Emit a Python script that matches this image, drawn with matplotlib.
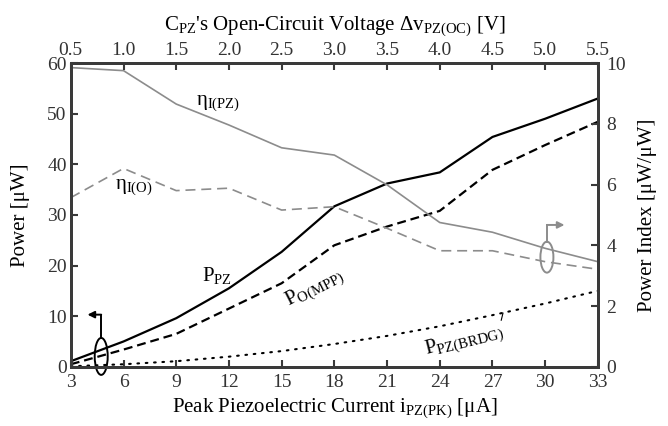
import numpy as np
import matplotlib
matplotlib.use("Agg")
import matplotlib.pyplot as plt
from matplotlib.patches import Ellipse

plt.rcParams['font.family'] = ['Liberation Serif', 'DejaVu Serif']
plt.rcParams['mathtext.fontset'] = 'custom'
plt.rcParams['mathtext.rm'] = 'Liberation Serif'
plt.rcParams['mathtext.it'] = 'Liberation Serif:italic'
plt.rcParams['mathtext.default'] = 'regular'

# peak piezoelectric current [uA]
i_pk = [3, 6, 9, 12, 15, 18, 21, 24, 27, 30, 33]

# power [uW] (left axis)
p_pz = [1.1, 5.0, 9.6, 15.5, 22.7, 31.7, 36.2, 38.4, 45.4, 49.0, 53.0]
p_mpp = [0.5, 3.4, 6.5, 11.5, 16.5, 24.0, 27.7, 30.8, 38.9, 43.8, 48.4]
p_brdg = [0.1, 0.5, 1.1, 2.0, 3.1, 4.5, 6.1, 8.0, 10.2, 12.5, 15.0]

# power index [uW/uW] (right axis)
eta_pz = [9.85, 9.75, 8.65, 7.96, 7.21, 6.97, 5.99, 4.75, 4.43, 3.9, 3.46]
eta_o = [5.57, 6.53, 5.8, 5.88, 5.16, 5.27, 4.56, 3.82, 3.82, 3.46, 3.21]

top_ticks = [0.5, 1.0, 1.5, 2.0, 2.5, 3.0, 3.5, 4.0, 4.5, 5.0, 5.5]

spine_c = '#3a3a3a'
gray = '#8c8c8c'
fs = 14

fig = plt.figure(figsize=(6.68, 4.26), dpi=100)
ax = fig.add_axes([0.106, 0.139, 0.789, 0.713])
ax2 = ax.twinx()
ax3 = ax.twiny()

# power curves
ax.plot(i_pk, p_pz, color='black', lw=1.6)
ax.plot(i_pk, p_mpp, color='black', lw=1.6, linestyle=(0, (4, 2.2)))
ax.plot(i_pk, p_brdg, color='black', lw=1.5, linestyle=(0, (0.8, 3.2)), dash_capstyle='round')

# power index curves
ax2.plot(i_pk, eta_pz, color=gray, lw=1.2)
ax2.plot(i_pk, eta_o, color=gray, lw=1.2, linestyle=(0, (6, 3.5)))

ax.set_xlim(3, 33)
ax.set_ylim(0, 60)
ax2.set_ylim(0, 10)
ax3.set_xlim(0.5, 5.5)

ax.set_xticks(i_pk)
ax.set_yticks(range(0, 61, 10))
ax2.set_yticks(range(0, 11, 2))
ax3.set_xticks(top_ticks)
ax3.set_xticklabels(['%.1f' % t for t in top_ticks])

for a in (ax, ax2, ax3):
    for s in a.spines.values():
        s.set_color(spine_c)
        s.set_linewidth(2.0)
    a.tick_params(direction='in', length=5, width=1.5, color=spine_c,
                  labelsize=fs, labelcolor='#333333', pad=3)
ax2.tick_params(pad=6)
ax.tick_params(axis='x', pad=5)

ax.set_xlabel('Peak Piezoelectric Current $i_{PZ(PK)}$ [μA]', fontsize=fs + 1, labelpad=4)
ax.set_ylabel('Power [μW]', fontsize=fs + 1, labelpad=12)
ax2.set_ylabel('Power Index [μW/μW]', fontsize=fs + 1, labelpad=9)
ax3.set_xlabel("$C_{PZ}$'s Open-Circuit Voltage $Δv_{PZ(OC)}$ [V]", fontsize=fs + 1, labelpad=9)

# curve labels
ax.text(11.3, 18.1, '$P_{PZ}$', fontsize=fs + 1, ha='center', va='center')
ax.text(16.9, 15.6, '$P_{O(MPP)}$', fontsize=fs + 1, ha='center', va='center', rotation=27)
ax.text(25.4, 5.1, '$P_{PZ(BRDG)}$', fontsize=fs + 1, ha='center', va='center', rotation=14)
ax.plot([27.6, 27.5], [10.6, 9.2], color='black', lw=0.8)
ax2.text(11.4, 8.68, 'η$_{I(PZ)}$', fontsize=fs + 1, ha='center', va='center')
ax2.text(6.6, 5.92, 'η$_{I(O)}$', fontsize=fs + 1, ha='center', va='center')

# axis markers
ax.add_patch(Ellipse((4.73, 2.05), 0.74, 7.3, fill=False, ec='black', lw=1.4, clip_on=False))
ax.plot([4.73, 4.73], [5.7, 10.3], color='black', lw=1.4)
ax.annotate('', xy=(3.95, 10.3), xytext=(4.73, 10.3),
            arrowprops=dict(arrowstyle='-|>', color='black', lw=1.4, mutation_scale=10,
                            shrinkA=0, shrinkB=0))
ax2.add_patch(Ellipse((30.1, 3.61), 0.74, 1.02, fill=False, ec=gray, lw=1.4))
ax2.plot([30.1, 30.1], [4.12, 4.67], color=gray, lw=1.4)
ax2.annotate('', xy=(31.1, 4.67), xytext=(30.1, 4.67),
             arrowprops=dict(arrowstyle='-|>', color=gray, lw=1.4, mutation_scale=10,
                             shrinkA=0, shrinkB=0))

fig.savefig('out.png', dpi=100)
